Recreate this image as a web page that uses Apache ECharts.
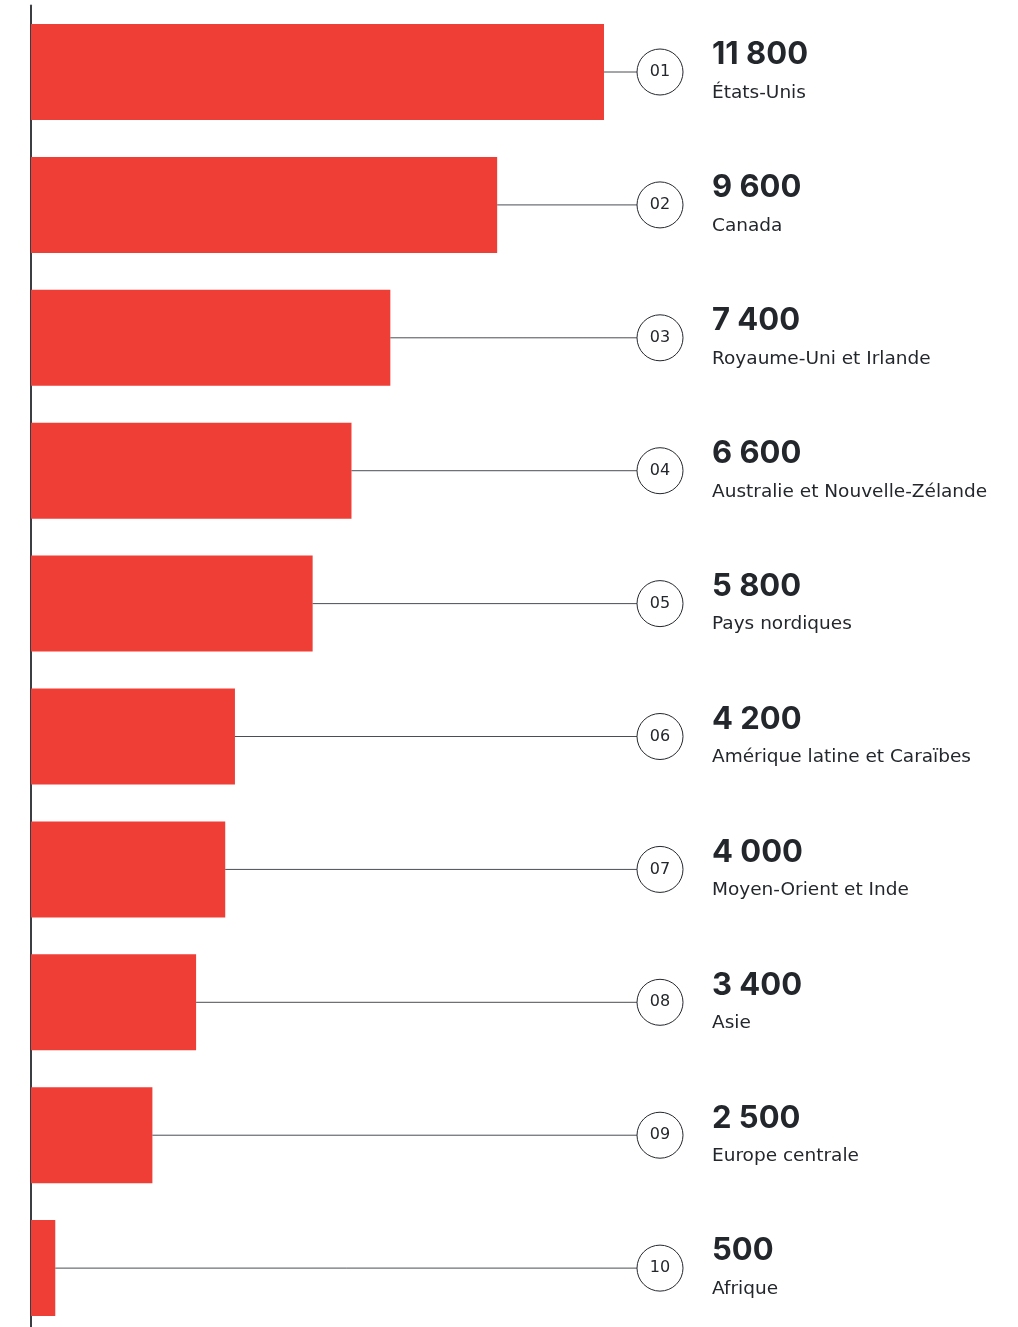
<!DOCTYPE html>
<html>
<head>
<meta charset="utf-8">
<script src="https://cdn.jsdelivr.net/npm/echarts@6/dist/echarts.min.js"></script>
<style>
  html, body { margin: 0; padding: 0; background: #ffffff; overflow: hidden; }
  #chart { width: 1018px; height: 1340px; }
</style>
</head>
<body>
<div id="chart"></div>
<script>
// Regions, ranked by value
const categories = [
  'États-Unis',
  'Canada',
  'Royaume-Uni et Irlande',
  'Australie et Nouvelle-Zélande',
  'Pays nordiques',
  'Amérique latine et Caraïbes',
  'Moyen-Orient et Inde',
  'Asie',
  'Europe centrale',
  'Afrique'
];
const values = [11800, 9600, 7400, 6600, 5800, 4200, 4000, 3400, 2500, 500];
const ranks = ['01', '02', '03', '04', '05', '06', '07', '08', '09', '10'];

const BAR_RED = '#ef3e36';
const INK = '#23272c';
const FONT = '"DejaVu Sans", Inter, sans-serif';
const NUM_FONT = 'Inter, "Noto Sans", sans-serif';

// "11800" -> "11 800"
function fmt(v) {
  return String(v).replace(/\B(?=(\d{3})+(?!\d))/g, ' ');
}

const chart = echarts.init(document.getElementById('chart'), null, { renderer: 'canvas' });

const CIRCLE_X = 660;
const CIRCLE_R = 23;
const TEXT_X = 712;

chart.setOption({
  animation: false,
  grid: { left: 31, top: 5.56, width: 582.7, height: 1329 },
  xAxis: {
    type: 'value',
    min: 0,
    max: 12000,
    show: false
  },
  yAxis: {
    type: 'category',
    data: categories,
    inverse: true,
    axisLine: { show: true, lineStyle: { color: '#3a3d42', width: 2 } },
    axisTick: { show: false },
    axisLabel: { show: false },
    splitLine: { show: false }
  },
  series: [
    {
      type: 'bar',
      data: values,
      barWidth: 96,
      itemStyle: { color: BAR_RED },
      z: 2
    },
    {
      // leader line, rank badge and value / name text for each row
      type: 'custom',
      data: values.map((v, i) => [v, i]),
      z: 3,
      renderItem: function (params, api) {
        const i = api.value(1);
        const end = api.coord([api.value(0), i]);
        const cy = end[1];
        return {
          type: 'group',
          children: [
            {
              type: 'line',
              shape: { x1: end[0], y1: cy, x2: CIRCLE_X - CIRCLE_R, y2: cy },
              style: { stroke: '#4a4d52', lineWidth: 1 }
            },
            {
              type: 'circle',
              shape: { cx: CIRCLE_X, cy: cy, r: CIRCLE_R },
              style: { fill: '#ffffff', stroke: INK, lineWidth: 1 }
            },
            {
              type: 'text',
              style: {
                x: CIRCLE_X, y: cy,
                text: ranks[i],
                fill: INK,
                font: '400 16px ' + FONT,
                align: 'center',
                verticalAlign: 'middle'
              }
            },
            {
              type: 'text',
              style: {
                x: TEXT_X, y: cy - 17,
                text: fmt(values[i]),
                fill: INK,
                font: '700 31px ' + NUM_FONT,
                align: 'left',
                verticalAlign: 'middle'
              }
            },
            {
              type: 'text',
              style: {
                x: TEXT_X, y: cy + 21,
                text: categories[i],
                fill: INK,
                font: '400 18.5px ' + FONT,
                align: 'left',
                verticalAlign: 'middle'
              }
            }
          ]
        };
      }
    }
  ]
});
</script>
</body>
</html>
